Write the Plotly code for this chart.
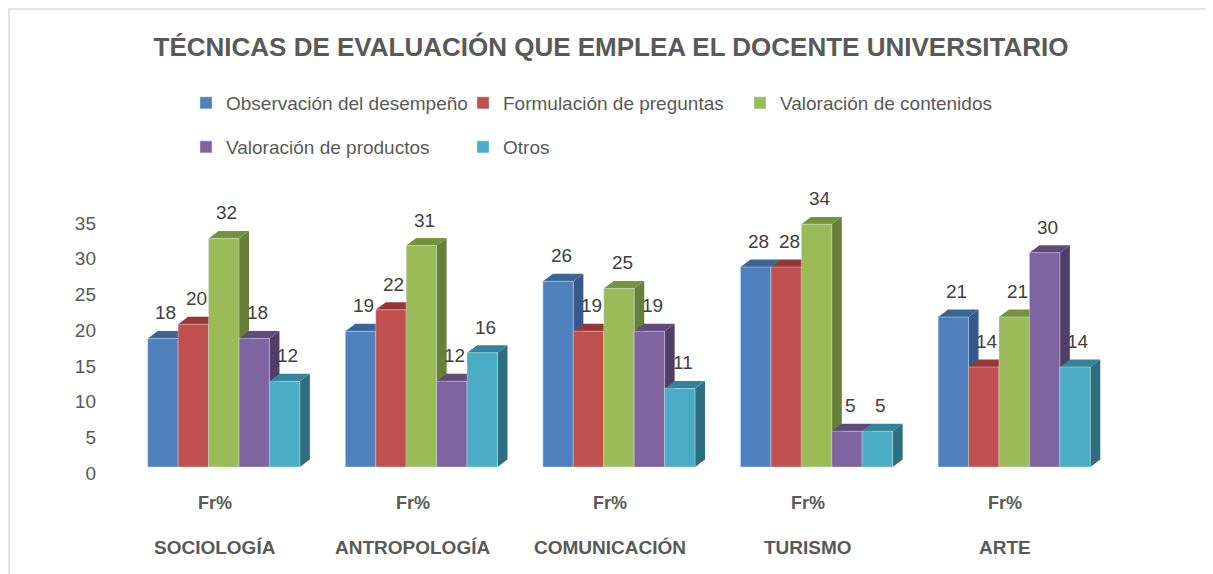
import plotly.graph_objects as go

categories = ["SOCIOLOGÍA", "ANTROPOLOGÍA", "COMUNICACIÓN", "TURISMO", "ARTE"]
sub_label = "Fr%"
series_names = ["Observación del desempeño", "Formulación de preguntas",
                "Valoración de contenidos", "Valoración de productos", "Otros"]
observacion = [18, 19, 26, 28, 21]
formulacion = [20, 22, 19, 28, 14]
contenidos = [32, 31, 25, 34, 21]
productos = [18, 12, 19, 5, 30]
otros = [12, 16, 11, 5, 14]
series_values = [observacion, formulacion, contenidos, productos, otros]
y_ticks = [0, 5, 10, 15, 20, 25, 30, 35]

front_colors = ["#4F81BD", "#C0504D", "#9BBB59", "#8064A2", "#4BACC6"]
top_colors = ["#3C6494", "#953735", "#77923C", "#604A7B", "#31849B"]
side_colors = ["#34598A", "#8A3230", "#66803A", "#503E68", "#2E6E7E"]

# page body has an 8px margin; design coordinates below are in screen pixels
OFF = 8
W, H = 1213, 574
L = 125 - OFF
T = 217 - OFF
R = W - (1113 - OFF)
B = H - (467 - OFF)
plot_w = W - L - R
plot_h = H - T - B
bottom_px = H - B


def py(screen_y):
    return (bottom_px - (screen_y - OFF)) / plot_h


def px(screen_x):
    return ((screen_x - OFF) - L) / plot_w


bargap = 0.23
n = len(series_names)
bw = (1 - bargap) / n
ymax = 35
depth_dx = 10 / (plot_w / len(categories))
depth_dy = 7.5 / (plot_h / ymax)

FONT = "Liberation Sans, Arial, sans-serif"

fig = go.Figure()
for i, (name, vals) in enumerate(zip(series_names, series_values)):
    fig.add_trace(go.Bar(
        name=name, x=categories, y=vals,
        marker=dict(color=front_colors[i], line=dict(color="rgba(220,230,242,0.7)", width=0.6)),
        legend="legend" if i < 3 else "legend2",
        hoverinfo="x+y+name",
    ))

sides = []
tops = []
annotations = []
for i, vals in enumerate(series_values):
    for j, v in enumerate(vals):
        xc = j + (i - (n - 1) / 2) * bw
        x0 = xc - bw / 2
        x1 = xc + bw / 2
        sides.append(dict(type="path", xref="x", yref="y", layer="below",
                          path=f"M{x1},0 L{x1},{v} L{x1+depth_dx},{v+depth_dy} L{x1+depth_dx},{depth_dy} Z",
                          fillcolor=side_colors[i], line=dict(width=0)))
        tops.append(dict(type="path", xref="x", yref="y", layer="below",
                         path=f"M{x0},{v} L{x0+depth_dx},{v+depth_dy} L{x1+depth_dx},{v+depth_dy} L{x1},{v} Z",
                         fillcolor=top_colors[i], line=dict(width=0)))
        annotations.append(dict(x=xc, y=v, xref="x", yref="y", text=str(v), showarrow=False,
                                xanchor="center", yanchor="bottom", yshift=13, xshift=3,
                                font=dict(family=FONT, size=19, color="#404040")))
shapes = sides + tops

# outer border
shapes.append(dict(type="rect", xref="paper", yref="paper", layer="below",
                   x0=px(9), x1=px(1206), y0=py(600), y1=py(9),
                   line=dict(color="#D9D9D9", width=1.5), fillcolor="rgba(0,0,0,0)"))

for j, c in enumerate(categories):
    annotations.append(dict(x=j - 0.045, y=py(503), xref="x", yref="paper",
                            text=f"<b>{sub_label}</b>", showarrow=False, xanchor="center", yanchor="middle",
                            font=dict(family=FONT, size=18, color="#595959")))
    annotations.append(dict(x=j - 0.045, y=py(547), xref="x", yref="paper",
                            text=f"<b>{c}</b>", showarrow=False, xanchor="center", yanchor="middle",
                            font=dict(family=FONT, size=19, color="#595959")))

legend_common = dict(orientation="h", xanchor="left", yanchor="middle", xref="container",
                     yref="container", entrywidth=232, entrywidthmode="pixels",
                     font=dict(family=FONT, size=19, color="#595959"), bgcolor="rgba(0,0,0,0)",
                     itemclick=False, itemdoubleclick=False, traceorder="normal")

fig.update_layout(
    width=W, height=H,
    margin=dict(l=L, r=R, t=T, b=B, autoexpand=False),
    paper_bgcolor="white", plot_bgcolor="white",
    barmode="group", bargap=bargap, bargroupgap=0,
    title=dict(text="<b>TÉCNICAS DE EVALUACIÓN QUE EMPLEA EL DOCENTE UNIVERSITARIO</b>",
               x=(611 - OFF) / W, xref="container", xanchor="center",
               y=1 - (47 - OFF) / H, yref="container",
               yanchor="middle", font=dict(family=FONT, size=26, color="#595959")),
    xaxis=dict(showticklabels=False, showgrid=False, zeroline=False, showline=False, ticks=""),
    yaxis=dict(range=[0, ymax], tickvals=y_ticks, showgrid=False, zeroline=False, showline=False,
               ticks="", ticklabelstandoff=28, ticklabelshift=6,
               tickfont=dict(family=FONT, size=19, color="#595959")),
    legend=dict(legend_common, x=(186 - OFF) / W, y=1 - (103 - OFF) / H),
    legend2=dict(legend_common, x=(186 - OFF) / W, y=1 - (147 - OFF) / H),
    shapes=shapes,
    annotations=annotations,
    showlegend=True,
)

fig.write_html("out.html")
